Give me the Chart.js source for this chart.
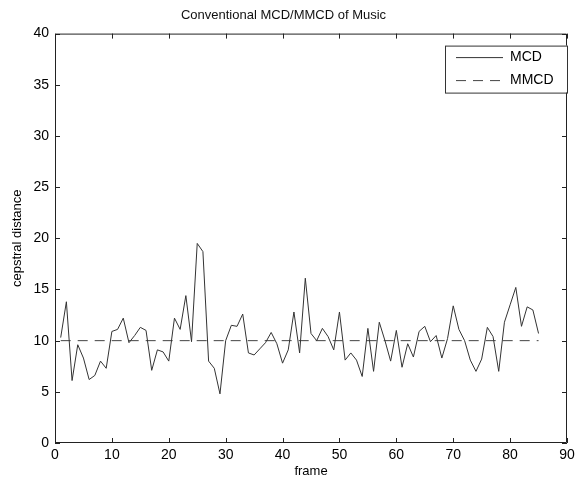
<!DOCTYPE html>
<html lang="en">
<head>
    <meta charset="UTF-8">
    <title>Conventional MCD/MMCD of Music</title>
    <script src="https://cdnjs.cloudflare.com/ajax/libs/Chart.js/4.4.1/chart.umd.min.js"></script>
    <style>
        body {
            margin: 0;
            padding: 0;
            background: #fff;
        }
        .chart-box {
            width: 580px;
            height: 485px;
        }
    </style>
</head>
<body>
    <div class="chart-box">
        <canvas id="mcdChart" width="580" height="485"></canvas>
    </div>

    <script>
        // frame numbers 1..85
        const frames = [
            1, 2, 3, 4, 5, 6, 7, 8, 9, 10, 11, 12, 13, 14, 15, 16, 17, 18, 19, 20,
            21, 22, 23, 24, 25, 26, 27, 28, 29, 30, 31, 32, 33, 34, 35, 36, 37, 38, 39, 40,
            41, 42, 43, 44, 45, 46, 47, 48, 49, 50, 51, 52, 53, 54, 55, 56, 57, 58, 59, 60,
            61, 62, 63, 64, 65, 66, 67, 68, 69, 70, 71, 72, 73, 74, 75, 76, 77, 78, 79, 80,
            81, 82, 83, 84, 85
        ];

        const mcdValues = [
            10.3, 13.8, 6.1, 9.6, 8.3, 6.2, 6.6, 8.0, 7.3, 10.9,
            11.1, 12.2, 9.8, 10.5, 11.3, 11.0, 7.1, 9.1, 8.9, 8.0,
            12.2, 11.1, 14.4, 9.9, 19.5, 18.7, 8.0, 7.3, 4.8, 10.0,
            11.5, 11.4, 12.6, 8.8, 8.6, 9.2, 9.8, 10.8, 9.7, 7.8,
            9.1, 12.8, 8.8, 16.1, 10.7, 10.0, 11.2, 10.4, 9.1, 12.8,
            8.1, 8.8, 8.1, 6.5, 11.2, 7.0, 11.8, 10.0, 8.0, 11.0,
            7.4, 9.7, 8.4, 10.9, 11.4, 9.9, 10.5, 8.3, 10.2, 13.4,
            11.1, 10.0, 8.1, 7.0, 8.2, 11.3, 10.4, 7.0, 11.8, 13.5,
            15.2, 11.4, 13.3, 13.0, 10.7
        ];

        // MMCD is a flat line across the frames
        const mmcdFrames = [1, 85];
        const mmcdValues = [10.0, 10.0];

        const xTicks = [0, 10, 20, 30, 40, 50, 60, 70, 80, 90];
        const yTicks = [0, 5, 10, 15, 20, 25, 30, 35, 40];

        const fontFamily = "'Liberation Sans', Arial, sans-serif";

        // matlab style: box around the axes, ticks pointing inwards, legend box inside
        const matlabAxes = {
            id: 'matlabAxes',
            afterDatasetsDraw(chart) {
                const ctx = chart.ctx;
                const area = chart.chartArea;
                const xs = chart.scales.x;
                const ys = chart.scales.y;
                const len = 5;

                ctx.save();
                ctx.strokeStyle = '#222';
                ctx.lineWidth = 1;
                ctx.beginPath();
                ctx.rect(area.left + 0.5, area.top + 0.5, area.right - area.left - 1, area.bottom - area.top - 1);
                ctx.stroke();

                ctx.beginPath();
                xTicks.forEach(t => {
                    const px = Math.round(xs.getPixelForValue(t)) + 0.5;
                    ctx.moveTo(px, area.bottom);
                    ctx.lineTo(px, area.bottom - len);
                    ctx.moveTo(px, area.top);
                    ctx.lineTo(px, area.top + len);
                });
                yTicks.forEach(t => {
                    const py = Math.round(ys.getPixelForValue(t)) + 0.5;
                    ctx.moveTo(area.left, py);
                    ctx.lineTo(area.left + len, py);
                    ctx.moveTo(area.right, py);
                    ctx.lineTo(area.right - len, py);
                });
                ctx.stroke();

                // legend
                const boxW = 122, boxH = 47;
                const bx = area.right - boxW;
                const by = area.top + 12;
                ctx.fillStyle = '#fff';
                ctx.fillRect(bx, by, boxW, boxH);
                ctx.strokeStyle = '#333';
                ctx.strokeRect(bx + 0.5, by + 0.5, boxW, boxH);

                ctx.font = '14px ' + fontFamily;
                ctx.textBaseline = 'middle';
                ctx.fillStyle = '#000';
                chart.data.datasets.forEach((ds, i) => {
                    const ly = by + 12 + i * 23;
                    ctx.beginPath();
                    ctx.strokeStyle = ds.borderColor;
                    ctx.lineWidth = ds.borderWidth;
                    ctx.setLineDash(ds.borderDash || []);
                    ctx.moveTo(bx + 11, ly);
                    ctx.lineTo(bx + 58, ly);
                    ctx.stroke();
                    ctx.setLineDash([]);
                    ctx.fillText(ds.label, bx + 65, ly);
                });
                ctx.restore();
            }
        };

        const ctx = document.getElementById('mcdChart').getContext('2d');
        new Chart(ctx, {
            type: 'line',
            data: {
                datasets: [
                    {
                        label: 'MCD',
                        data: frames.map((f, i) => ({ x: f, y: mcdValues[i] })),
                        borderColor: '#333',
                        borderWidth: 1,
                        pointRadius: 0,
                        tension: 0
                    },
                    {
                        label: 'MMCD',
                        data: mmcdFrames.map((f, i) => ({ x: f, y: mmcdValues[i] })),
                        borderColor: '#444',
                        borderWidth: 1,
                        borderDash: [10, 7],
                        pointRadius: 0,
                        tension: 0
                    }
                ]
            },
            options: {
                responsive: false,
                animation: false,
                layout: {
                    padding: { right: 13 }
                },
                plugins: {
                    legend: { display: false },
                    tooltip: { enabled: false },
                    title: {
                        display: true,
                        text: 'Conventional MCD/MMCD of Music',
                        color: '#111',
                        font: { family: fontFamily, size: 13, weight: 'normal' },
                        padding: { top: 8, bottom: 10 }
                    }
                },
                scales: {
                    x: {
                        type: 'linear',
                        min: 0,
                        max: 90,
                        grid: { display: false, drawTicks: false },
                        border: { display: false },
                        afterBuildTicks: scale => {
                            scale.ticks = xTicks.map(v => ({ value: v }));
                        },
                        afterFit: scale => { scale.height = 42; },
                        ticks: {
                            color: '#000',
                            padding: 4,
                            maxRotation: 0,
                            font: { family: fontFamily, size: 14 }
                        },
                        title: {
                            display: true,
                            text: 'frame',
                            color: '#000',
                            padding: { top: 0, bottom: 6 },
                            font: { family: fontFamily, size: 13 }
                        }
                    },
                    y: {
                        min: 0,
                        max: 40,
                        grid: { display: false, drawTicks: false },
                        border: { display: false },
                        afterBuildTicks: scale => {
                            scale.ticks = yTicks.map(v => ({ value: v }));
                        },
                        afterFit: scale => { scale.width = 55; },
                        ticks: {
                            color: '#000',
                            padding: 6,
                            font: { family: fontFamily, size: 14 }
                        },
                        title: {
                            display: true,
                            text: 'cepstral distance',
                            color: '#000',
                            padding: { top: 10, bottom: 6 },
                            font: { family: fontFamily, size: 13 }
                        }
                    }
                }
            },
            plugins: [matlabAxes]
        });
    </script>
</body>
</html>
